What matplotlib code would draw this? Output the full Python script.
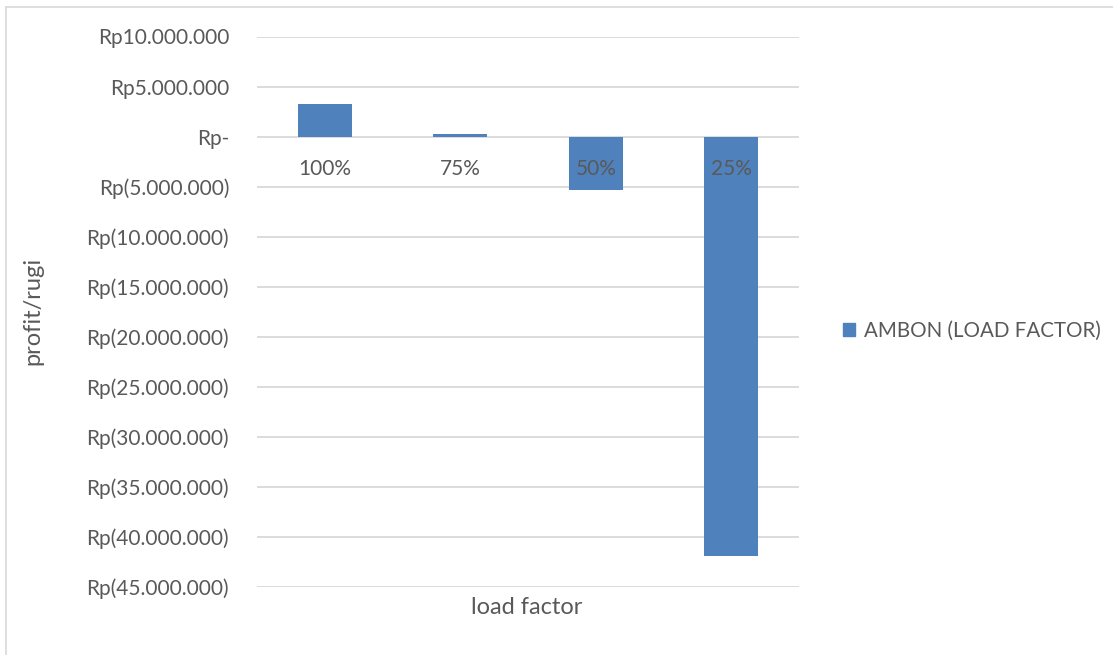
import matplotlib
matplotlib.use("Agg")
import matplotlib.pyplot as plt
from matplotlib.patches import Patch
from matplotlib.lines import Line2D
from matplotlib.ticker import FixedLocator, FuncFormatter

categories = ["100%", "75%", "50%", "25%"]
profit = [3300000, 250000, -5300000, -41900000]
series_name = "AMBON (LOAD FACTOR)"
y_ticks = list(range(10000000, -45000001, -5000000))

BAR = "#4f81bd"
GRID = "#d9d9d9"
TEXT = "#595959"
plt.rcParams["font.family"] = ["Lato", "DejaVu Sans"]


def rupiah(v, pos=None):
    if v == 0:
        return "Rp-"
    s = f"{abs(int(v)):,}".replace(",", ".")
    return f"Rp{s}" if v > 0 else f"Rp({s})"


fig = plt.figure(figsize=(11.13, 6.55), dpi=100)
ax = fig.add_axes([257 / 1113, 1 - 587 / 655, 542 / 1113, 550.5 / 655])

x = list(range(len(categories)))
ax.bar(x, profit, width=0.40, color=BAR, zorder=3)

ax.set_ylim(-45000000, 10000000)
ax.set_xlim(-0.5, 3.5)
ax.yaxis.set_major_locator(FixedLocator(y_ticks))
ax.yaxis.set_major_formatter(FuncFormatter(rupiah))
ax.grid(axis="y", color=GRID, linewidth=1.3, zorder=0)
ax.set_xticks([])
ax.tick_params(axis="y", length=0, pad=20, labelsize=15, labelcolor=TEXT)
for s in ax.spines.values():
    s.set_visible(False)

# category labels sit just under the zero line
for xi, lab in zip(x, categories):
    ax.annotate(lab, (xi, 0), xytext=(0, -23), textcoords="offset points",
                ha="center", va="center", fontsize=15, color=TEXT, zorder=4)

fig.text(527 / 1113, 1 - 608 / 655, "load factor", ha="center", va="center",
         fontsize=17, color=TEXT)
fig.text(33 / 1113, 1 - 311 / 655, "profit/rugi", ha="center", va="center",
         rotation=90, fontsize=17, color=TEXT)

handle = Patch(facecolor=BAR, edgecolor=BAR)
fig.legend([handle], [series_name], loc="center left",
           bbox_to_anchor=(824 / 1113, 1 - 331 / 655), frameon=False,
           fontsize=14.8, labelcolor=TEXT, handlelength=0.6, handleheight=0.6,
           handletextpad=0.45)

# chart frame
fig.add_artist(Line2D([5.5 / 1113, 5.5 / 1113], [0, 1 - 7 / 655],
                      color=GRID, linewidth=1.2, transform=fig.transFigure))
fig.add_artist(Line2D([5.5 / 1113, 1], [1 - 7 / 655, 1 - 7 / 655],
                      color=GRID, linewidth=1.2, transform=fig.transFigure))

fig.savefig("out.png", dpi=100, facecolor="white")
